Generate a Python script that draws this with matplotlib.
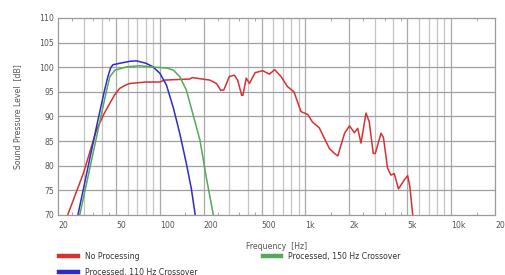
import numpy as np
import matplotlib
matplotlib.use("Agg")
import matplotlib.pyplot as plt
from matplotlib.lines import Line2D

# ------------------------------
# Data
# ------------------------------
freq_none = [23.3, 29.9, 36.8, 41.5, 45.4, 49, 53, 57.5, 62, 80, 100, 108, 160, 167, 196, 220, 245,
             262, 275, 300, 325, 342, 365, 372, 392, 412, 451, 509, 565, 614, 680,
             751, 834, 931, 1038, 1115, 1243, 1459, 1582, 1667, 1855, 2004, 2167,
             2283, 2405, 2603, 2740, 2920, 3015, 3300, 3425, 3660, 3860, 4070, 4350,
             4760, 5030, 5210, 5450]
spl_none = [70, 78.5, 87.3, 90.6, 92.7, 94.4, 95.7, 96.3, 96.7, 97.0, 97.0, 97.4, 97.6, 97.9, 97.6, 97.4, 96.7,
            95.3, 95.4, 98.1, 98.4, 97.4, 94.3, 94.3, 97.8, 96.7, 98.9, 99.3, 98.6, 99.5, 98.1,
            96.1, 95.0, 91.0, 90.4, 88.9, 87.7, 83.5, 82.5, 82.0, 86.6, 88.1, 86.7,
            87.6, 84.6, 90.7, 88.9, 82.5, 82.5, 86.6, 85.8, 79.5, 78.1, 78.4, 75.3,
            77.1, 78.0, 75.7, 70]

freq_110 = [27.4, 36.8, 41.5, 44.0, 46, 47.6, 53, 62, 69, 80.6, 89.6, 100, 111, 124, 137, 152, 164.5, 175]
spl_110 = [70, 88.0, 95.0, 98.1, 99.9, 100.5, 100.8, 101.2, 101.3, 100.8, 100.1, 98.8, 96.4, 91.7,
           86.6, 80.5, 75.4, 70]

freq_150 = [28.2, 37.5, 42.5, 45.4, 49.2, 59.5, 72.6, 85.6, 113.5, 124, 137, 152, 168, 188.6, 208, 233]
spl_150 = [70, 87.0, 94.5, 98.1, 99.4, 100.1, 100.3, 100.1, 99.8, 99.4, 98.1, 95.4, 90.7,
           85.2, 77.8, 70]

labels = ["No Processing", "Processed, 110 Hz Crossover", "Processed, 150 Hz Crossover"]
colors = ["#d93030", "#2b2bd0", "#55aa55"]

major_ticks = [20, 50, 100, 200, 500, 1000, 2000, 5000, 10000, 20000]
major_labels = ["20", "50", "100", "200", "500", "1k", "2k", "5k", "10k", "20k"]
light_lines = [30, 40, 60, 70, 80, 90, 300, 400, 600, 700, 800, 900,
               3000, 4000, 6000, 7000, 8000, 9000]
minor_ticks = [25, 35, 45, 150, 250, 350, 450, 1500, 2500, 3500, 4500, 15000]

# ------------------------------
# Plot
# ------------------------------
plt.rcParams['font.family'] = ['DejaVu Sans']
fig = plt.figure(figsize=(5.06, 2.75), dpi=100)
ax = fig.add_axes([58 / 506, 1 - 215 / 275, (495 - 58) / 506, (215 - 18) / 275])

for f in light_lines:
    ax.axvline(f, color="#c4c4c4", lw=0.9, zorder=0)
for f in major_ticks[1:-1]:
    ax.axvline(f, color="#a8a8a8", lw=0.9, zorder=0)
for v in range(75, 110, 5):
    ax.axhline(v, color="#a0a0a0", lw=0.9, zorder=0)

ax.plot(freq_none, spl_none, color=colors[0], lw=1.1)
ax.plot(freq_110, spl_110, color=colors[1], lw=1.1)
ax.plot(freq_150, spl_150, color=colors[2], lw=1.1)

ax.set_xscale("log")
ax.set_xlim(20, 20000)
ax.set_ylim(70, 110)
ax.set_xticks(major_ticks)
ax.set_xticklabels(major_labels, ha="left")
ax.set_xticks(minor_ticks, minor=True)
ax.set_xticklabels([], minor=True)
ax.set_yticks(range(70, 111, 5))

ax.tick_params(axis="both", which="major", length=0, labelsize=5.6, colors="#555555", pad=3)
ax.tick_params(axis="x", which="major", pad=4)
ax.tick_params(axis="x", which="minor", length=2, direction="in", top=True,
               color="#999999", width=0.6)
for s in ax.spines.values():
    s.set_color("#999999")
    s.set_linewidth(0.9)

ax.set_xlabel("Frequency  [Hz]", fontsize=5.6, color="#555555", labelpad=9)
ax.set_ylabel("Sound Pressure Level  [dB]", fontsize=5.6, color="#555555", labelpad=12)

handles = [Line2D([], [], color=c, lw=3.2) for c in colors]
fig.legend(handles, labels, ncol=2, loc="upper left",
           bbox_to_anchor=(59 / 506, 1 - 252 / 275), frameon=False,
           fontsize=5.6, handlelength=2.4, handletextpad=0.9,
           columnspacing=8.4, labelspacing=0.85, borderpad=0, borderaxespad=0,
           labelcolor="#333333")

fig.savefig("out.png", dpi=100)
